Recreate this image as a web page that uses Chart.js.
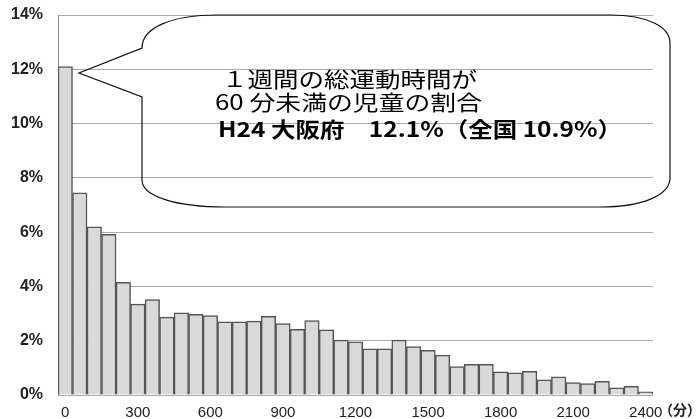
<!DOCTYPE html>
<html>
<head>
<meta charset="utf-8">
<script src="https://cdn.jsdelivr.net/npm/chart.js@4.4.1/dist/chart.umd.min.js"></script>
<style>
  html, body { margin: 0; padding: 0; background: #fff; }
  #wrap { width: 700px; height: 419px; }
</style>
</head>
<body>
<div id="wrap"><canvas id="hist" width="700" height="419"></canvas></div>
<script>
// 1週間の総運動時間（分）ごとの児童の割合、60分刻み
var minutes = [0, 60, 120, 180, 240, 300, 360, 420, 480, 540, 600, 660, 720, 780, 840,
  900, 960, 1020, 1080, 1140, 1200, 1260, 1320, 1380, 1440, 1500, 1560, 1620, 1680,
  1740, 1800, 1860, 1920, 1980, 2040, 2100, 2160, 2220, 2280, 2340, 2400];
var percents = [12.1, 7.45, 6.2, 5.92, 4.15, 3.35, 3.52, 2.87, 3.03, 2.97, 2.93, 2.7,
  2.7, 2.72, 2.9, 2.63, 2.42, 2.74, 2.4, 2.02, 1.96, 1.7, 1.7, 2.02, 1.78, 1.65, 1.47,
  1.05, 1.13, 1.13, 0.85, 0.82, 0.87, 0.56, 0.67, 0.46, 0.42, 0.5, 0.26, 0.32, 0.12];
var yTicks = [0, 2, 4, 6, 8, 10, 12, 14];
var calloutLines = [
  "１週間の総運動時間が",
  "60 分未満の児童の割合",
  "H24 大阪府　12.1%（全国 10.9%）"
];
var unitLabel = "（分）";

// callout balloon + unit label
var calloutPlugin = {
  id: 'callout',
  afterDraw: function(chart) {
    var ctx = chart.ctx;
    var ca = chart.chartArea;
    var x0 = ca.left, y0 = ca.top;
    ctx.save();
    ctx.strokeStyle = '#111';
    ctx.lineWidth = 1.2;
    ctx.beginPath();
    ctx.moveTo(x0 + 84, y0 + 33);
    ctx.bezierCurveTo(x0 + 84, y0 + 12, x0 + 115, y0, x0 + 159, y0);
    ctx.lineTo(x0 + 552, y0);
    ctx.bezierCurveTo(x0 + 590, y0, x0 + 612, y0 + 12, x0 + 612, y0 + 28);
    ctx.lineTo(x0 + 612, y0 + 163);
    ctx.bezierCurveTo(x0 + 612, y0 + 180, x0 + 585, y0 + 192, x0 + 542, y0 + 192);
    ctx.lineTo(x0 + 167, y0 + 192);
    ctx.bezierCurveTo(x0 + 120, y0 + 192, x0 + 84, y0 + 182, x0 + 84, y0 + 165);
    ctx.lineTo(x0 + 84, y0 + 82);
    ctx.lineTo(x0 + 21, y0 + 58);
    ctx.closePath();
    ctx.stroke();

    // text lines, stretched to the widths seen in the reference
    var specs = [
      { font: '21px "Noto Sans CJK JP"', x: 222, y: 79, w: 255 },
      { font: '21px "Noto Sans CJK JP"', x: 215, y: 102, w: 267 },
      { font: 'bold 21px "Noto Sans CJK JP"', x: 218, y: 129, w: 404 }
    ];
    ctx.fillStyle = '#000';
    ctx.textBaseline = 'middle';
    ctx.textAlign = 'left';
    for (var i = 0; i < calloutLines.length; i++) {
      var s = specs[i];
      ctx.font = s.font;
      var mw = ctx.measureText(calloutLines[i]).width;
      ctx.save();
      ctx.translate(s.x, s.y);
      ctx.scale(s.w / mw, 1);
      ctx.fillText(calloutLines[i], 0, 0);
      ctx.restore();
    }

    // unit after the last tick label
    ctx.font = 'bold 14px "Noto Sans CJK JP"';
    ctx.fillStyle = '#222';
    ctx.fillText(unitLabel, ca.right + 6, ca.bottom + 15);
    ctx.restore();
  }
};

var ctx = document.getElementById('hist').getContext('2d');
var chart = new Chart(ctx, {
  type: 'bar',
  data: {
    labels: minutes,
    datasets: [{
      data: percents,
      backgroundColor: '#d9d9d9',
      borderColor: '#555555',
      borderWidth: 1.5,
      barPercentage: 1.0,
      categoryPercentage: 1.0
    }]
  },
  options: {
    responsive: false,
    animation: false,
    devicePixelRatio: 1,
    layout: { padding: { top: 15, right: 47, left: 0, bottom: 0 } },
    plugins: { legend: { display: false }, tooltip: { enabled: false } },
    scales: {
      x: {
        grid: { display: false },
        border: { display: false },
        afterFit: function(scale) {
          scale.height = 24;
          scale.paddingLeft = 0; scale.paddingRight = 0;
        },
        ticks: {
          autoSkip: false,
          maxRotation: 0,
          padding: 2,
          color: '#222',
          font: { family: 'Liberation Sans', size: 15, lineHeight: 1 },
          callback: function(val, idx) {
            return idx % 5 === 0 ? String(minutes[idx]) : '';
          }
        }
      },
      y: {
        min: 0,
        max: 14,
        afterFit: function(scale) {
          scale.width = 58;
          scale.paddingTop = 0; scale.paddingBottom = 0;
        },
        afterBuildTicks: function(scale) {
          scale.ticks = yTicks.map(function(v) { return { value: v }; });
        },
        grid: { color: '#aaaaaa', lineWidth: 1, drawTicks: false },
        border: { display: true, color: '#888888', width: 1 },
        ticks: {
          padding: 15,
          color: '#222',
          font: { family: 'Liberation Sans', size: 16, weight: 'bold' },
          callback: function(v) { return v + '%'; }
        }
      }
    }
  },
  plugins: [calloutPlugin]
});
</script>
</body>
</html>
